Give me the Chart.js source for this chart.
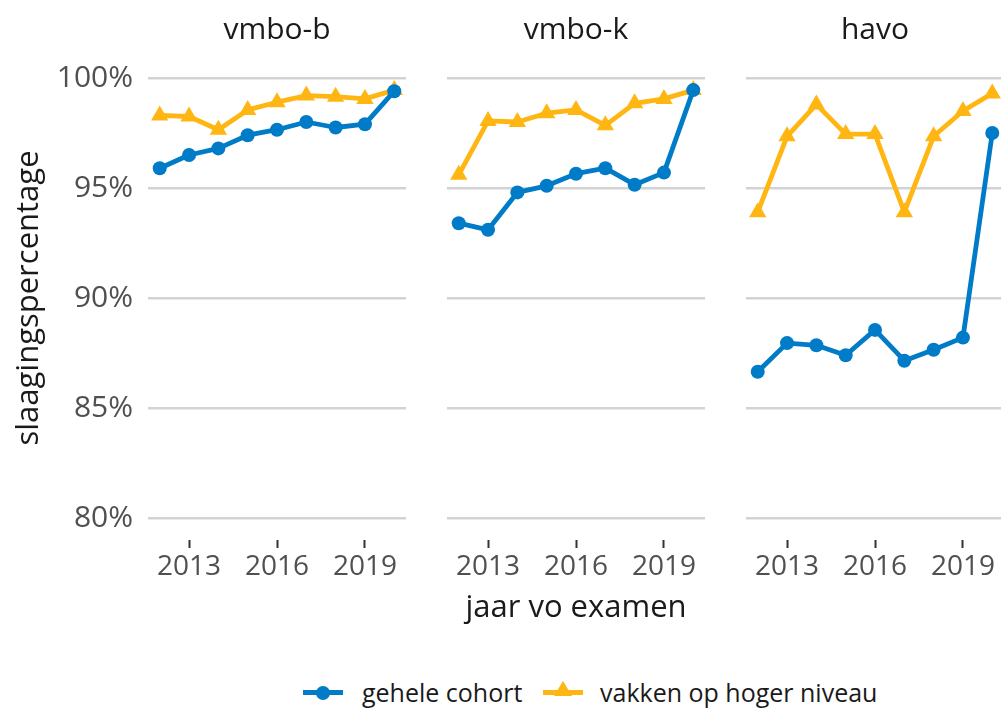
<!DOCTYPE html>
<html>
<head>
<meta charset="utf-8">
<script src="https://cdn.jsdelivr.net/npm/chart.js@4/dist/chart.umd.min.js"></script>
<style>
html,body{margin:0;padding:0;width:1001px;height:711px;overflow:hidden;background:#fff;font-family:'Open Sans',sans-serif;}
.panel{position:absolute;top:0;}
#legend{position:absolute;left:0;top:674px;width:1001px;height:37px;color:#1a1a1a;font-size:25px;}
.key{position:absolute;top:16px;width:40px;height:5px;}
.lbl{position:absolute;top:0px;line-height:36px;white-space:nowrap;}
.dot{position:absolute;left:13px;top:-4.5px;width:14px;height:14px;border-radius:50%;}
.tri{position:absolute;left:11px;top:-9px;width:0;height:0;border-left:9px solid transparent;border-right:9px solid transparent;border-bottom:15px solid #ffb612;}
</style>
</head>
<body>
<div class="panel" style="left:0px"><canvas id="c1" width="416" height="640"></canvas></div>
<div class="panel" style="left:437px"><canvas id="c2" width="278" height="640"></canvas></div>
<div class="panel" style="left:736px"><canvas id="c3" width="278" height="640"></canvas></div>
<div id="legend">
  <div class="key" style="left:303px;background:#007bc7"><div class="dot" style="background:#007bc7"></div></div>
  <div class="lbl" style="left:362px">gehele cohort</div>
  <div class="key" style="left:543px;background:#ffb612"><div class="tri"></div></div>
  <div class="lbl" style="left:600px">vakken op hoger niveau</div>
</div>
<script>
// ---- data ----
const years = [2012, 2013, 2014, 2015, 2016, 2017, 2018, 2019, 2020];
const xTicks = [2013, 2016, 2019];
const yTicks = [80, 85, 90, 95, 100];
const panelTitles = ['vmbo-b', 'vmbo-k', 'havo'];
const seriesNames = ['gehele cohort', 'vakken op hoger niveau'];

const vmbobCohort = [95.9, 96.5, 96.8, 97.4, 97.65, 98.0, 97.75, 97.9, 99.4];
const vmbobHoger  = [98.3, 98.25, 97.65, 98.55, 98.9, 99.2, 99.15, 99.05, 99.45];
const vmbokCohort = [93.4, 93.1, 94.8, 95.1, 95.65, 95.9, 95.15, 95.7, 99.45];
const vmbokHoger  = [95.6, 98.05, 98.0, 98.4, 98.55, 97.85, 98.85, 99.05, 99.45];
const havoCohort  = [86.65, 87.95, 87.85, 87.4, 88.55, 87.15, 87.65, 88.2, 97.5];
const havoHoger   = [93.9, 97.35, 98.8, 97.45, 97.45, 93.9, 97.35, 98.5, 99.3];

const BLUE = '#007bc7', ORANGE = '#ffb612';
const FONT = "'Open Sans', sans-serif";

function pts(vals){ return years.map((y,i)=>({x:y, y:vals[i]})); }

function makeChart(id, title, cohort, hoger, opt){
  const first = opt.first, middle = opt.middle;
  new Chart(document.getElementById(id), {
    type: 'line',
    data: {
      datasets: [
        {label: seriesNames[0], data: pts(cohort), borderColor: BLUE, backgroundColor: BLUE,
         borderWidth: 4.8, pointStyle: 'circle', pointRadius: 7, pointBorderWidth: 0,
         pointBackgroundColor: BLUE, tension: 0, borderJoinStyle: 'round', borderCapStyle: 'round'},
        {label: seriesNames[1], data: pts(hoger), borderColor: ORANGE, backgroundColor: ORANGE,
         borderWidth: 4.8, pointStyle: 'triangle', pointRadius: 10, pointBorderWidth: 0,
         pointBackgroundColor: ORANGE, tension: 0, borderJoinStyle: 'round', borderCapStyle: 'round'}
      ]
    },
    options: {
      responsive: false,
      animation: false,
      devicePixelRatio: 1,
      events: [],
      layout: {padding: {left: first ? 0 : 10, right: 10, top: 0, bottom: 0}},
      plugins: {
        legend: {display: false},
        tooltip: {enabled: false},
        title: {display: true, text: title, fullSize: false, color: '#1a1a1a',
                font: {family: FONT, size: 30, weight: 'normal', lineHeight: 1.2},
                padding: {top: 12, bottom: 8}}
      },
      scales: {
        x: {
          type: 'linear', min: 2011.6, max: 2020.4,
          afterBuildTicks: s => { s.ticks = xTicks.map(v => ({value: v})); },
          afterFit: s => { s.height = 100; },
          border: {display: false},
          grid: {drawOnChartArea: false, drawTicks: true, tickLength: 8, tickColor: '#333', tickWidth: 2, color: '#333'},
          ticks: {autoSkip: false, maxRotation: 0, color: '#505050', padding: 2,
                  font: {family: FONT, size: 28}, callback: v => String(v)},
          title: {display: !!middle, text: 'jaar vo examen', color: '#1a1a1a',
                  font: {family: FONT, size: 31, lineHeight: 1.2}, padding: {top: 0, bottom: 13}}
        },
        y: {
          min: 79, max: 101,
          afterBuildTicks: s => { s.ticks = yTicks.map(v => ({value: v})); },
          afterFit: s => { s.width = first ? 148 : 0; },
          border: {display: false},
          grid: {color: '#d3d3d3', lineWidth: 2.5, drawTicks: false},
          ticks: {display: !!first, color: '#505050', padding: 15,
                  font: {family: FONT, size: 30}, callback: v => v + '%'},
          title: {display: !!first, text: 'slaagingspercentage', color: '#1a1a1a',
                  font: {family: FONT, size: 31, lineHeight: 1.2}, padding: {top: 11, bottom: 0}}
        }
      }
    }
  });
}

makeChart('c1', panelTitles[0], vmbobCohort, vmbobHoger, {first: true});
makeChart('c2', panelTitles[1], vmbokCohort, vmbokHoger, {middle: true});
makeChart('c3', panelTitles[2], havoCohort, havoHoger, {});
</script>
</body>
</html>
